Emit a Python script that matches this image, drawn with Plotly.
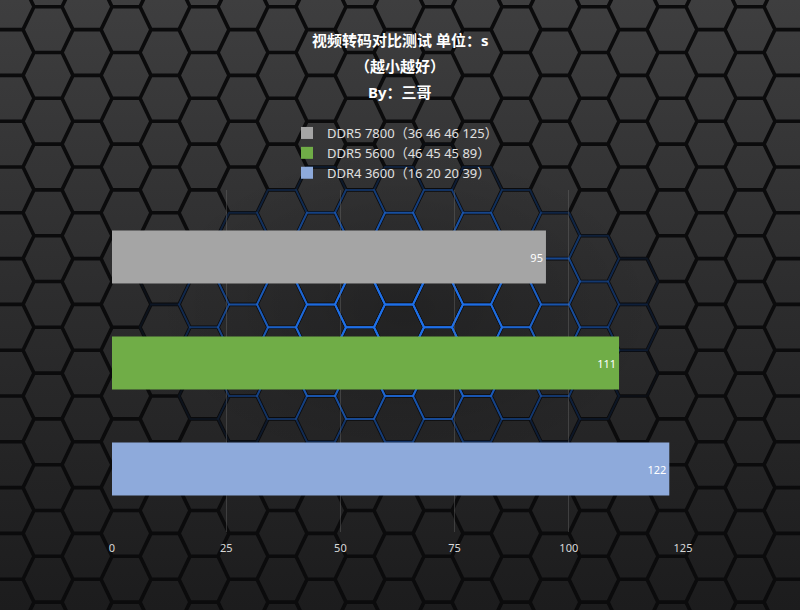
import base64
import math
import plotly.graph_objects as go

# ---------------- data ----------------
series_names = ["DDR5 7800（36 46 46 125）", "DDR5 5600（46 45 45 89）", "DDR4 3600（16 20 20 39）"]
values = [95, 111, 122]
bar_colors = ["#a5a5a5", "#70ad47", "#8eaadb"]
x_ticks = [0, 25, 50, 75, 100, 125]
title_lines = ["视频转码对比测试 单位：s", "（越小越好）", "By：三哥"]

# ---------------- geometry ----------------
W, H = 800, 610
ML, MR, MT, MB = 112, 117, 190, 78
PW = W - ML - MR
PH = H - MT - MB
FONT = "Microsoft YaHei, Noto Sans, Noto Sans CJK SC, sans-serif"


def px_to_paper_x(px):
    return (px - ML) / PW


def px_to_paper_y(py):
    return (H - MB - py) / PH


# ---------------- decorative hexagon background (SVG) ----------------
def hex_background():
    d = 22.9   # half height
    s = 39.0   # column spacing
    w = 50.0   # full width
    a = 2 * s - w  # flat edge length
    x0, y0 = 48.0, 6.7
    parts = [
        '<svg xmlns="http://www.w3.org/2000/svg" width="%d" height="%d" viewBox="0 0 %d %d">' % (W, H, W, H),
        '<defs><linearGradient id="g" x1="0" y1="0" x2="0" y2="1">'
        '<stop offset="0" stop-color="#3e3e3f"/><stop offset="0.5" stop-color="#2c2c2d"/>'
        '<stop offset="1" stop-color="#1c1c1d"/></linearGradient>'
        '<radialGradient id="c" cx="0.5" cy="0.5" r="0.5">'
        '<stop offset="0" stop-color="#000" stop-opacity="0.22"/>'
        '<stop offset="1" stop-color="#000" stop-opacity="0"/></radialGradient></defs>',
        '<rect width="%d" height="%d" fill="url(#g)"/>' % (W, H),
        '<ellipse cx="405" cy="310" rx="250" ry="160" fill="url(#c)"/>',
    ]
    black = []
    blue = []
    for k in range(-2, 23):
        cx = x0 + k * s
        for m in range(-2, 16):
            if k % 2 == 0:
                cy = y0 + (2 * m + 1) * d
            else:
                cy = y0 + 2 * m * d
            pts = [
                (cx - w / 2, cy), (cx - a / 2, cy - d), (cx + a / 2, cy - d),
                (cx + w / 2, cy), (cx + a / 2, cy + d), (cx - a / 2, cy + d),
            ]
            path = "M" + " L".join("%.1f %.1f" % p for p in pts) + " Z"
            black.append(path)
            rx = (cx - 405) / 260.0
            ry = (cy - 315) / 155.0
            r = math.sqrt(rx * rx + ry * ry)
            alpha = max(0.0, 1.0 - r)
            if alpha > 0.03:
                blue.append((path, min(1.0, 1.3 * alpha ** 1.1)))
    parts.append('<path d="%s" fill="none" stroke="#0b0b0c" stroke-width="3.6" stroke-linejoin="round"/>'
                 % " ".join(black))
    for path, al in blue:
        parts.append('<path d="%s" fill="none" stroke="#1f6fe6" stroke-opacity="%.2f" '
                     'stroke-width="2" stroke-linejoin="round"/>' % (path, al))
    parts.append('</svg>')
    svg = "".join(parts)
    return "data:image/svg+xml;base64," + base64.b64encode(svg.encode("utf-8")).decode("ascii")


# ---------------- figure ----------------
fig = go.Figure()
for name, val, col in zip(series_names, values, bar_colors):
    fig.add_trace(go.Bar(
        y=[name], x=[val], name=name, orientation="h",
        marker=dict(color=col, line=dict(width=0)),
        width=0.5,
        text=[str(val)], textposition="inside", insidetextanchor="end",
        textangle=0,
        insidetextfont=dict(color="#ffffff", size=11, family=FONT),
        hoverinfo="x+name",
    ))

fig.update_layout(
    width=W, height=H,
    margin=dict(l=ML, r=MR, t=MT, b=MB, pad=0),
    paper_bgcolor="#2b2b2b",
    plot_bgcolor="rgba(0,0,0,0)",
    barmode="overlay",
    showlegend=True,
    legend=dict(
        x=px_to_paper_x(287), y=px_to_paper_y(118), xanchor="left", yanchor="top",
        orientation="v", traceorder="normal",
        font=dict(color="#e0e0e0", size=13, family=FONT),
        bgcolor="rgba(0,0,0,0)", tracegroupgap=0,
    ),
    xaxis=dict(
        range=[0, 125], tickvals=x_ticks, ticktext=[str(t) for t in x_ticks],
        showgrid=True, gridcolor="rgba(110,110,110,0.4)", gridwidth=1,
        zeroline=False, showline=False,
        ticks="outside", ticklen=6, tickcolor="rgba(0,0,0,0)",
        tickfont=dict(color="#d9d9d9", size=11, family=FONT),
        fixedrange=True,
    ),
    yaxis=dict(
        type="category", categoryorder="array", categoryarray=series_names,
        range=[2.594, -0.632], showticklabels=False, showgrid=False,
        zeroline=False, showline=False, fixedrange=True,
    ),
    images=[dict(
        source=hex_background(), xref="paper", yref="paper",
        x=-ML / PW, y=1 + MT / PH, sizex=W / PW, sizey=H / PH,
        xanchor="left", yanchor="top", sizing="stretch", layer="below",
    )],
)

title_y = [40, 66, 92]
for txt, py in zip(title_lines, title_y):
    fig.add_annotation(
        text="<b>%s</b>" % txt, xref="paper", yref="paper",
        x=px_to_paper_x(400), y=px_to_paper_y(py),
        xanchor="center", yanchor="middle", showarrow=False,
        font=dict(color="#ffffff", size=15, family=FONT),
    )

fig.write_html("out.html", config={"displayModeBar": False},
               post_script="document.body.style.margin='0px';")
